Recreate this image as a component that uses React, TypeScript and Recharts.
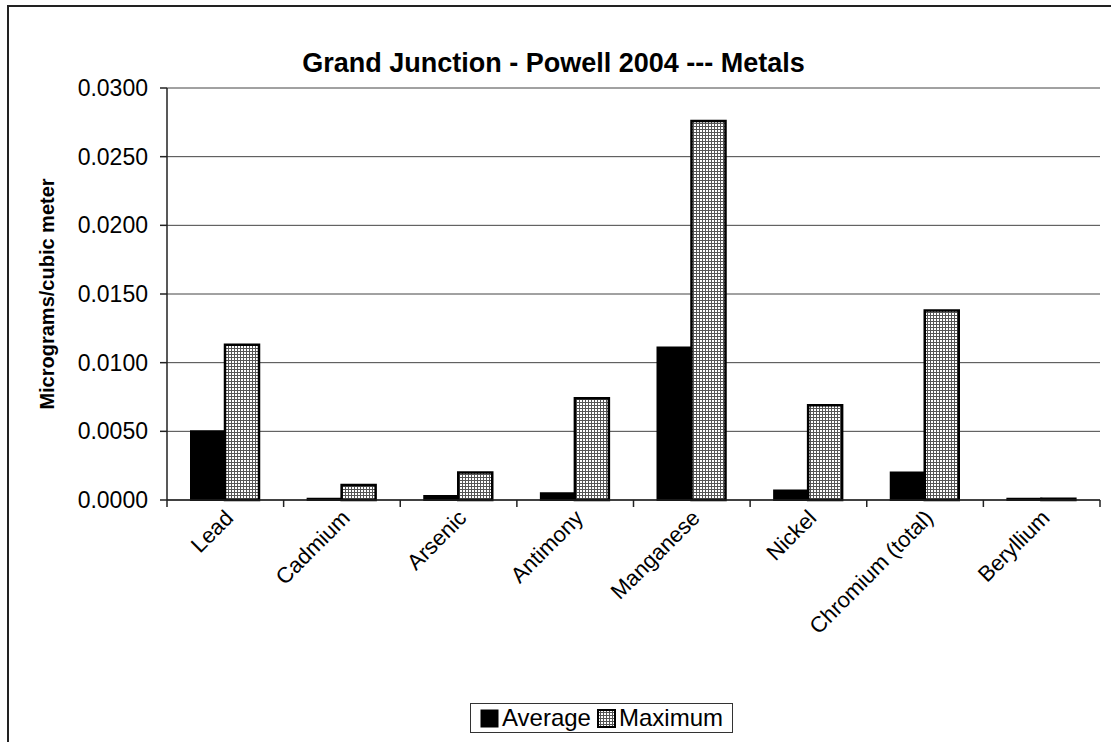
import React from "react";
import { BarChart, Bar, XAxis, YAxis, CartesianGrid, Legend } from "recharts";

const categories = ["Lead", "Cadmium", "Arsenic", "Antimony", "Manganese", "Nickel", "Chromium (total)", "Beryllium"];
const averageValues = [0.005, 0.0001, 0.0003, 0.0005, 0.0111, 0.0007, 0.002, 0.0001];
const maximumValues = [0.0113, 0.0011, 0.002, 0.0074, 0.0276, 0.0069, 0.0138, 0.0001];
const yTicks = [0, 0.005, 0.01, 0.015, 0.02, 0.025, 0.03];

const data = categories.map((name, i) => ({ name, average: averageValues[i], maximum: maximumValues[i] }));

const W = 1111;
const H = 742;
const MARGIN = { top: 88, right: 11, left: 67, bottom: 92 };
const Y_W = 100;
const PLOT_W = W - MARGIN.left - MARGIN.right - Y_W;
const BAND = PLOT_W / categories.length;
const FONT = "'Liberation Sans', Arial, sans-serif";

const CategoryTick = (props: any) => {
  const { x, y, payload, index } = props;
  const axisY = y - 8;
  const half = BAND / 2;
  const tx = x - 2;
  const ty = y;
  return (
    <g>
      <line x1={x - half} x2={x - half} y1={axisY} y2={axisY + 7} stroke="#222" strokeWidth={1.5} />
      {index === categories.length - 1 && (
        <line x1={x + half} x2={x + half} y1={axisY} y2={axisY + 7} stroke="#222" strokeWidth={1.5} />
      )}
      <text
        x={tx}
        y={ty}
        textAnchor="end"
        dominantBaseline="hanging"
        transform={`rotate(-45 ${tx} ${ty})`}
        fontSize={22}
        fontFamily={FONT}
        fill="#000"
      >
        {payload.value}
      </text>
    </g>
  );
};

const LegendBox = () => (
  <div
    style={{
      border: "1px solid #333",
      background: "#fff",
      display: "flex",
      alignItems: "center",
      justifyContent: "center",
      height: 30,
      boxSizing: "border-box",
      fontFamily: FONT,
      fontSize: 24,
      color: "#000",
      whiteSpace: "nowrap",
    }}
  >
    <svg width={19} height={19} style={{ marginRight: 3 }}>
      <rect x={1} y={1} width={17} height={17} fill="#000" stroke="#000" />
    </svg>
    <span style={{ marginRight: 6 }}>Average</span>
    <svg width={19} height={19} style={{ marginRight: 3 }}>
      <rect x={1} y={1} width={17} height={17} fill="url(#gridPattern)" stroke="#000" strokeWidth={2} />
    </svg>
    <span>Maximum</span>
  </div>
);

export default function App() {
  return (
    <div style={{ position: "fixed", left: 0, top: 0, width: W, height: H, overflow: "hidden", background: "#fff" }}>
      <svg width={0} height={0} style={{ position: "absolute" }}>
        <defs>
          <pattern id="gridPattern" width={3} height={3} patternUnits="userSpaceOnUse">
            <rect x={0} y={0} width={3} height={3} fill="#fff" />
            <rect x={0} y={0} width={1} height={3} fill="#555" />
            <rect x={0} y={0} width={3} height={1} fill="#555" />
          </pattern>
        </defs>
      </svg>
      <div
        style={{
          position: "absolute",
          left: 0,
          top: 48,
          width: 1107,
          textAlign: "center",
          fontFamily: FONT,
          fontWeight: "bold",
          fontSize: 27,
          color: "#000",
        }}
      >
        Grand Junction - Powell 2004 --- Metals
      </div>
      <div style={{ position: "absolute", left: 0, top: 0 }}>
        <BarChart width={W} height={H} data={data} margin={MARGIN} barGap={0} barSize={34}>
          <CartesianGrid vertical={false} stroke="#444" strokeWidth={1} />
          <XAxis
            dataKey="name"
            interval={0}
            tickLine={false}
            axisLine={{ stroke: "#222", strokeWidth: 1.5 }}
            tick={<CategoryTick />}
            height={150}
          />
          <YAxis
            width={Y_W}
            domain={[0, 0.03]}
            ticks={yTicks}
            tickFormatter={(v: number) => v.toFixed(4)}
            axisLine={{ stroke: "#222", strokeWidth: 1.5 }}
            tickLine={{ stroke: "#222", strokeWidth: 1.5 }}
            tickSize={7}
            tickMargin={12}
            tick={{ fontSize: 23, fontFamily: FONT, fill: "#000" }}
            label={{
              content: () => (
                <text
                  x={47}
                  y={294}
                  transform="rotate(-90 47 294)"
                  textAnchor="middle"
                  dominantBaseline="central"
                  fontSize={20}
                  fontWeight="bold"
                  fontFamily={FONT}
                  fill="#000"
                >
                  Micrograms/cubic meter
                </text>
              ),
            }}
          />
          <Legend
            layout="horizontal"
            verticalAlign="middle"
            align="center"
            content={() => <LegendBox />}
            wrapperStyle={{ position: "absolute", left: 470, top: 703, width: 263, height: 30 }}
          />
          <Bar dataKey="average" name="Average" fill="#000" stroke="#000" strokeWidth={2} isAnimationActive={false} />
          <Bar dataKey="maximum" name="Maximum" fill="url(#gridPattern)" stroke="#000" strokeWidth={2.5} isAnimationActive={false} />
        </BarChart>
      </div>
      <svg width={W} height={H} style={{ position: "absolute", left: 0, top: 0, zIndex: 10, pointerEvents: "none" }}>
        <line x1={7} y1={6} x2={W} y2={6} stroke="#222" strokeWidth={2} />
        <line x1={8} y1={5} x2={8} y2={H} stroke="#222" strokeWidth={2} />
      </svg>
    </div>
  );
}
